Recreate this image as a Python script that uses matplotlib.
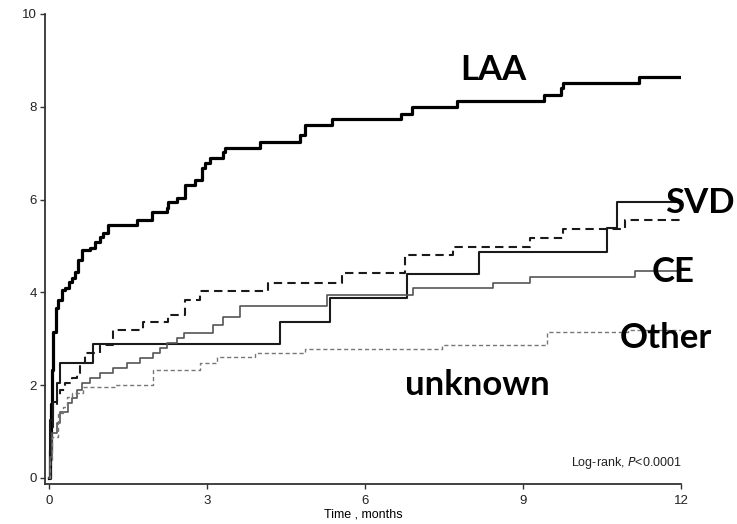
import matplotlib
matplotlib.use("Agg")
import matplotlib.pyplot as plt

# cumulative event curves (%), step at each time
laa_t = [0, 0.02, 0.04, 0.06, 0.08, 0.13, 0.17, 0.25, 0.30, 0.38, 0.44, 0.49, 0.55, 0.63, 0.78,
         0.87, 0.97, 1.02, 1.12, 1.67, 1.95, 2.24, 2.26, 2.43, 2.58, 2.77, 2.90, 2.96, 3.05,
         3.30, 3.34, 4.00, 4.76, 4.86, 5.37, 6.68, 6.89, 7.74, 9.39, 9.72, 9.75, 11.21, 12.0]
laa_v = [0, 0.6, 1.6, 2.33, 3.15, 3.66, 3.84, 4.05, 4.10, 4.22, 4.31, 4.44, 4.70, 4.91, 4.96,
         5.09, 5.19, 5.28, 5.45, 5.56, 5.73, 5.82, 5.95, 6.03, 6.31, 6.42, 6.68, 6.79, 6.90,
         7.03, 7.11, 7.24, 7.39, 7.61, 7.74, 7.84, 8.00, 8.13, 8.25, 8.41, 8.51, 8.64, 8.64]

svd_t = [0, 0.02, 0.08, 0.15, 0.21, 0.83, 4.38, 5.33, 6.79, 8.16, 10.60, 10.78, 12.0]
svd_v = [0, 1.25, 1.64, 2.05, 2.48, 2.89, 3.36, 3.88, 4.40, 4.87, 5.39, 5.95, 5.95]

unk_t = [0, 0.03, 0.08, 0.15, 0.21, 0.30, 0.44, 0.53, 0.59, 0.68, 0.97, 1.21, 1.78, 2.26,
         2.58, 2.87, 4.16, 5.56, 6.76, 7.67, 9.13, 9.75, 10.93, 12.0]
unk_v = [0, 1.0, 1.53, 1.75, 1.90, 2.05, 2.16, 2.26, 2.48, 2.69, 2.87, 3.19, 3.36, 3.51,
         3.84, 4.03, 4.20, 4.42, 4.81, 4.98, 5.17, 5.37, 5.56, 5.56]

ce_t = [0, 0.01, 0.06, 0.15, 0.21, 0.36, 0.44, 0.53, 0.63, 0.78, 0.97, 1.21, 1.48, 1.72,
        1.97, 2.11, 2.24, 2.43, 2.55, 3.11, 3.30, 3.62, 5.27, 6.90, 8.42, 9.13, 11.12, 12.0]
ce_v = [0, 0.45, 0.97, 1.19, 1.42, 1.62, 1.72, 1.90, 2.05, 2.16, 2.26, 2.37, 2.48, 2.59,
        2.69, 2.80, 2.91, 3.02, 3.12, 3.30, 3.47, 3.70, 3.94, 4.10, 4.20, 4.33, 4.46, 4.46]

oth_t = [0, 0.01, 0.06, 0.17, 0.27, 0.34, 0.44, 0.65, 1.25, 1.97, 2.87, 3.19, 3.90, 4.86,
         7.46, 9.45, 11.0, 12.0]
oth_v = [0, 0.39, 0.88, 1.40, 1.53, 1.75, 1.83, 1.96, 2.00, 2.33, 2.47, 2.60, 2.69, 2.78,
         2.87, 3.15, 3.20, 3.20]

xticks = [0, 3, 6, 9, 12]
yticks = [0, 2, 4, 6, 8, 10]

small_font = ["Liberation Sans Narrow", "Liberation Sans"]

fig = plt.figure(figsize=(7.37, 5.24), dpi=100)
ax = fig.add_axes([0.0611, 0.0763, 0.863, 0.897])

ax.step(laa_t, laa_v, where="post", color="black", lw=2.3)
ax.step(svd_t, svd_v, where="post", color="#1a1a1a", lw=1.5)
ax.step(unk_t, unk_v, where="post", color="#1a1a1a", lw=1.5, dashes=(4, 2.5))
ax.step(ce_t, ce_v, where="post", color="#555555", lw=1.2)
ax.step(oth_t, oth_v, where="post", color="#777777", lw=1.0, dashes=(3, 2))

ax.set_xlim(-0.08, 12)
ax.set_ylim(-0.13, 10)
ax.set_xticks(xticks)
ax.set_yticks(yticks)
for s in ["top", "right"]:
    ax.spines[s].set_visible(False)
for s in ["left", "bottom"]:
    ax.spines[s].set_color("#333333")
    ax.spines[s].set_linewidth(1.3)
ax.spines["bottom"].set_bounds(-0.08, 12)
ax.spines["left"].set_bounds(-0.13, 10)
ax.tick_params(length=3.5, width=1, color="#333333", labelsize=9.5, labelcolor="#222222")
ax.tick_params(axis="x", pad=4.5)
ax.tick_params(axis="y", pad=2.5)
for lab in ax.get_xticklabels() + ax.get_yticklabels():
    lab.set_family(small_font)
ax.set_xlabel("Time , months", fontsize=9, family=small_font, labelpad=1)

lab_kw = dict(fontsize=25, fontweight="bold", family="Lato", ha="center", va="center",
              color="black", clip_on=False)
ax.text(8.43, 8.79, "LAA", **lab_kw)
ax.text(12.36, 5.93, "SVD", **lab_kw)
ax.text(11.85, 4.44, "CE", **lab_kw)
ax.text(11.71, 3.02, "Other", **lab_kw)
ax.text(8.13, 2.0, "unknown", **lab_kw)

ax.text(12.02, 0.33, "Log-rank, $P$<0.0001", fontsize=9, family=small_font,
        ha="right", va="center", color="#222222", clip_on=False)

fig.savefig("out.png", dpi=100)
